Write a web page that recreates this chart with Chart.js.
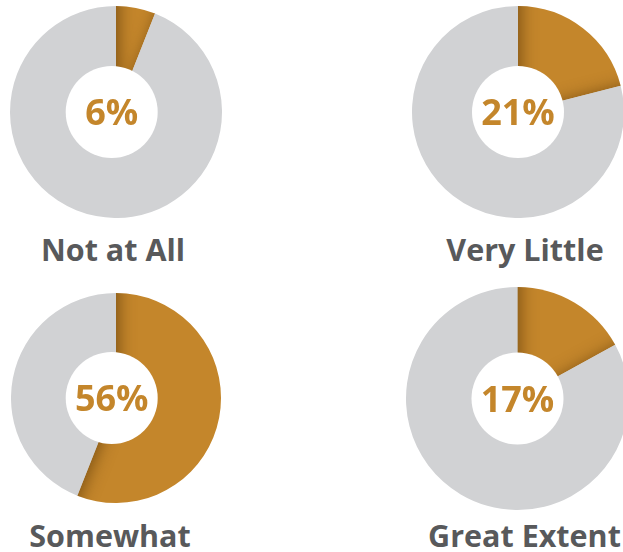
<!DOCTYPE html>
<html>
<head>
<meta charset="utf-8">
<script src="https://cdn.jsdelivr.net/npm/chart.js@4"></script>
<style>
  html, body { margin: 0; padding: 0; background: #fff; }
  body { width: 623px; height: 552px; position: relative; overflow: hidden; }
  .donut { position: absolute; }
  .label {
    position: absolute; width: 300px; text-align: center;
    font-family: "Open Sans", sans-serif; font-weight: 700; font-size: 30.5px;
    line-height: 32px; color: #58595b; white-space: nowrap;
  }
</style>
</head>
<body>
<div class="donut" style="left:9.7px;top:6px;width:212px;height:212px"><canvas id="c0"></canvas></div>
<div class="donut" style="left:411.7px;top:6px;width:212px;height:212px"><canvas id="c1"></canvas></div>
<div class="donut" style="left:10.5px;top:293px;width:210px;height:210px"><canvas id="c2"></canvas></div>
<div class="donut" style="left:406.2px;top:287px;width:223px;height:223px"><canvas id="c3"></canvas></div>

<div class="label" style="left:-37px;top:233px">Not at All</div>
<div class="label" style="left:375px;top:233px">Very Little</div>
<div class="label" style="left:-40px;top:519px">Somewhat</div>
<div class="label" style="left:374.5px;top:519px">Great Extent</div>

<script>
// Survey answers and their shares (percent)
const categories = ['Not at All', 'Very Little', 'Somewhat', 'Great Extent'];
const shares = [6, 21, 56, 17];
const remainder = [94, 79, 44, 83];

// white disc in the middle: radius in px and horizontal nudge
const holeRadius = [46, 46, 46, 46];
const holeShift = [-4.3, 0, -4.3, 0];

const ORANGE = '#c4862b';
const GREY = '#d1d2d4';

// Soft shadow that the grey slice throws onto the orange slice
const sliceShadow = {
    id: 'sliceShadow',
    afterDatasetsDraw(chart) {
        const arcs = chart.getDatasetMeta(0).data;
        const a = arcs[0], b = arcs[1];
        const ctx = chart.ctx;
        ctx.save();
        ctx.beginPath();
        ctx.moveTo(a.x, a.y);
        ctx.arc(a.x, a.y, a.outerRadius, a.startAngle, a.endAngle);
        ctx.closePath();
        ctx.clip();
        // draw the grey shape far off to the left so only its shadow lands here
        const shift = 2000;
        ctx.shadowColor = 'rgba(70, 40, 0, 0.55)';
        ctx.shadowBlur = 16;
        ctx.shadowOffsetX = shift + 3;
        ctx.shadowOffsetY = 0;
        ctx.beginPath();
        ctx.moveTo(b.x - shift, b.y);
        ctx.arc(b.x - shift, b.y, b.outerRadius + 40, b.startAngle, b.endAngle);
        ctx.closePath();
        ctx.fillStyle = '#000';
        ctx.fill();
        ctx.restore();
    }
};

// White disc with the percentage written in it
const centerText = {
    id: 'centerText',
    afterDraw(chart) {
        const i = chart.options.plugins.centerText.index;
        const arc = chart.getDatasetMeta(0).data[0];
        const ctx = chart.ctx;
        const cx = arc.x + holeShift[i];
        const cy = arc.y;
        ctx.save();
        ctx.beginPath();
        ctx.arc(cx, cy, holeRadius[i], 0, Math.PI * 2);
        ctx.fillStyle = '#fff';
        ctx.fill();
        ctx.font = '700 36px "Open Sans", sans-serif';
        ctx.fillStyle = ORANGE;
        ctx.textAlign = 'center';
        ctx.textBaseline = 'alphabetic';
        ctx.fillText(chart.data.datasets[0].data[0] + '%', cx, cy + 13);
        ctx.restore();
    }
};

categories.forEach((cat, i) => {
    new Chart(document.getElementById('c' + i), {
        type: 'pie',
        data: {
            labels: [cat, 'Other'],
            datasets: [{
                data: [shares[i], remainder[i]],
                backgroundColor: [ORANGE, GREY],
                borderWidth: 0,
                hoverOffset: 0
            }]
        },
        options: {
            responsive: true,
            maintainAspectRatio: false,
            animation: false,
            events: [],
            layout: { padding: 0 },
            plugins: {
                legend: { display: false },
                tooltip: { enabled: false },
                centerText: { index: i }
            }
        },
        plugins: [sliceShadow, centerText]
    });
});
</script>
</body>
</html>
